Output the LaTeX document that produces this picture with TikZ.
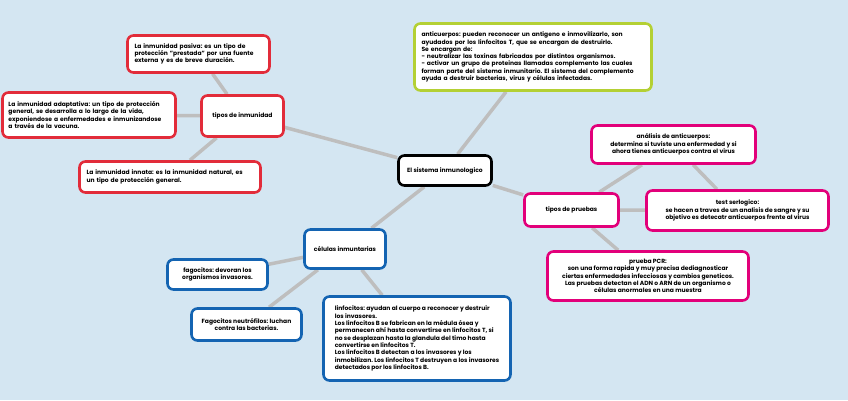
\documentclass[tikz,border=0pt]{standalone}
\usepackage{fontspec}
\setmainfont{Poppins}
\frenchspacing
\usepackage{tikz}
\usetikzlibrary{positioning, backgrounds}
\definecolor{bgblue}{RGB}{212,230,242}
\definecolor{redline}{RGB}{226,44,58}
\definecolor{greenline}{RGB}{180,208,52}
\definecolor{pinkline}{RGB}{226,0,122}
\definecolor{blueline}{RGB}{20,100,178}
\definecolor{linkgray}{RGB}{190,190,190}
\tikzstyle{box} = [rectangle, draw, line width=2.6pt, rounded corners=6pt, fill=white, inner sep=0pt, font=\bfseries\fontsize{6}{7.3}\selectfont]
\tikzstyle{redbox} = [box, draw=redline, align=left]
\tikzstyle{greenbox} = [box, draw=greenline, align=left]
\tikzstyle{pinkbox} = [box, draw=pinkline, align=center]
\tikzstyle{bluebox} = [box, draw=blueline, align=center]
\tikzstyle{link} = [line width=3.5pt, draw=linkgray]

\begin{document}
\begin{tikzpicture}[x=1pt, y=-1pt]
% Background
\begin{pgfonlayer}{background}
\fill[bgblue] (0,0) rectangle (848,400);
\end{pgfonlayer}
\useasboundingbox (0,0) rectangle (848,400);

% Centre
\node[box, draw=black, align=center, minimum width=93pt, minimum height=30pt] (sistema) at (445,170.5) {El sistema inmunologico};

% Tipos de inmunidad
\node[redbox, align=center, minimum width=82pt, minimum height=41pt] (tiposinm) at (242.5,116) {tipos de inmunidad};
\node[redbox, minimum width=142pt, minimum height=37pt, text width=128pt] (pasiva) at (198.5,54) {La inmunidad pasiva: es un tipo de\\protección "prestada" por una fuente\\externa y es de breve duración.};
\node[redbox, minimum width=173pt, minimum height=45pt, text width=161pt] (adaptativa) at (89,115) {La inmunidad adaptativa: un tipo de protección\\general, se desarrolla a lo largo de la vida,\\exponiendose a enfermedades e inmunizandose\\a través de la vacuna.};
\node[redbox, minimum width=181pt, minimum height=31pt, text width=167pt] (innata) at (170,177) {La inmunidad innata: es la inmunidad natural, es\\un tipo de protección general.};

% Anticuerpos
\node[greenbox, minimum width=237pt, minimum height=67pt, text width=223pt] (anticuerpos) at (533,57) {anticuerpos: pueden reconocer un antigeno e inmovilizarlo, son\\ayudados por los linfocitos T, que se encargan de destruirlo.\\Se encargan de:\\- neutralizar las toxinas fabricadas por distintos organismos.\\- activar un grupo de proteinas llamadas complemento las cuales\\forman parte del sistema inmunitario. El sistema del complemento\\ayuda a destruir bacterias, virus y células infectadas.};

% Tipos de pruebas
\node[pinkbox, minimum width=94pt, minimum height=33pt] (pruebas) at (571.5,210) {tipos de pruebas};
\node[pinkbox, minimum width=164pt, minimum height=38pt] (analisis) at (673.5,144.5) {análisis de anticuerpos:\\determina si tuviste una enfermedad y si\\ahora tienes anticuerpos contra el virus};
\node[pinkbox, minimum width=182pt, minimum height=40pt] (serologico) at (737.5,210.5) {test serlogico:\\se hacen a traves de un analisis de sangre y su\\objetivo es detecatr anticuerpos frente al virus};
\node[pinkbox, minimum width=201pt, minimum height=49pt] (pcr) at (648,276) {prueba PCR:\\son una forma rapida y muy precisa dediagnosticar\\ciertas enfermedades infecciosas y cambios geneticos.\\Las pruebas detectan el ADN o ARN de un organismo o\\células anormales en una muestra};

% Celulas inmunitarias
\node[bluebox, minimum width=81pt, minimum height=39pt] (celulas) at (345,249) {células inmuntarias};
\node[bluebox, minimum width=100pt, minimum height=30pt] (fagocitos) at (217.5,274.5) {fagocitos: devoran los\\organismos invasores.};
\node[bluebox, minimum width=110pt, minimum height=32pt] (neutrofilos) at (246.5,324.5) {Fagocitos neutrófilos: luchan\\contra las bacterias.};
\node[bluebox, align=left, minimum width=187pt, minimum height=84pt] (linfocitos) at (417,338.5) {linfocitos: ayudan al cuerpo a reconocer y destruir\\los invasores.\\Los linfocitos B se fabrican en la médula ósea y\\permanecen ahí hasta convertirse en linfocitos T, si\\no se desplazan hasta la glandula del timo hasta\\convertirse en linfocitos T.\\Los linfocitos B detectan a los invasores y los\\inmobilizan. Los linfocitos T destruyen a los invasores\\detectados por los linfocitos B.};

% Connections
\begin{pgfonlayer}{background}
\draw[link] (sistema) -- (tiposinm);
\draw[link] (sistema) -- (anticuerpos);
\draw[link] (sistema) -- (pruebas);
\draw[link] (sistema) -- (celulas);
\draw[link] (tiposinm) -- (pasiva);
\draw[link] (tiposinm) -- (adaptativa);
\draw[link] (tiposinm) -- (innata);
\draw[link] (pruebas) -- (analisis);
\draw[link] (pruebas) -- (serologico);
\draw[link] (pruebas) -- (pcr);
\draw[link] (analisis) -- (serologico);
\draw[link] (celulas) -- (fagocitos);
\draw[link] (celulas) -- (neutrofilos);
\draw[link] (celulas) -- (linfocitos);
\end{pgfonlayer}
\end{tikzpicture}
\end{document}
